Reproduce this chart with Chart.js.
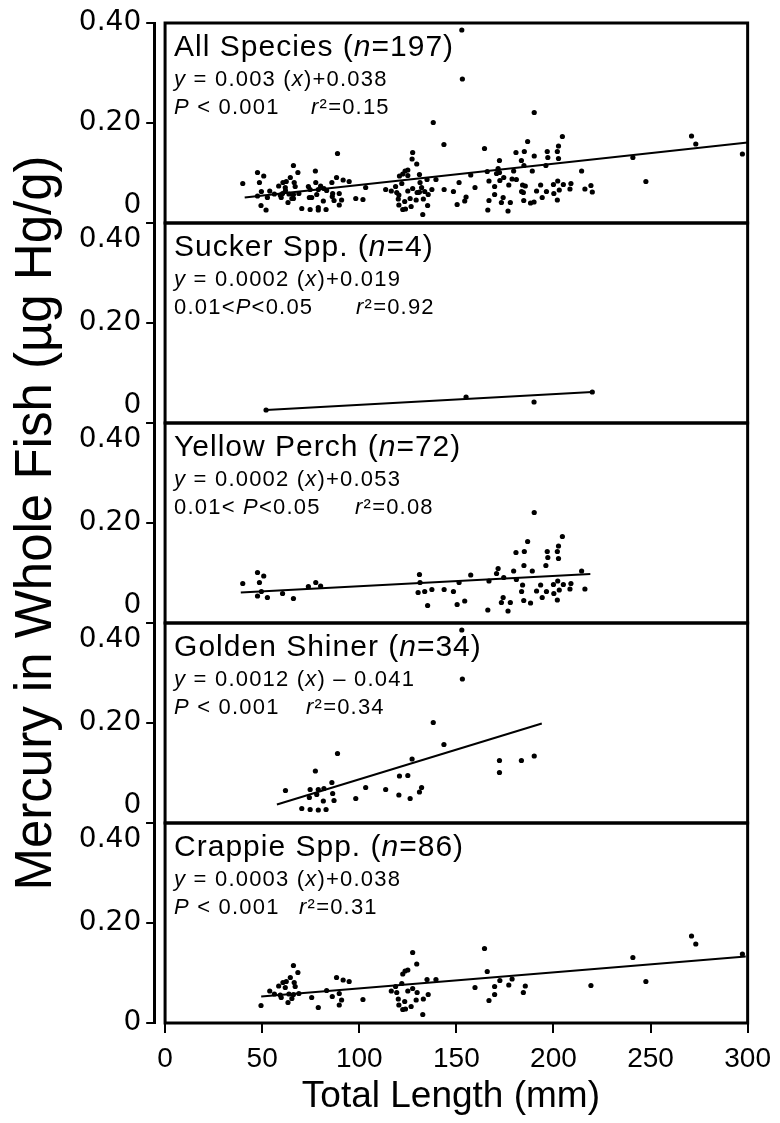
<!DOCTYPE html>
<html>
<head>
<meta charset="utf-8">
<script src="https://cdn.jsdelivr.net/npm/chart.js@4.4.1/dist/chart.umd.min.js"></script>
<style>
  html, body { margin: 0; padding: 0; background: #fff; }
  #wrap { position: relative; width: 780px; height: 1123px; }
</style>
</head>
<body>
<div id="wrap"><canvas id="chart" width="780" height="1123"></canvas></div>
<script>
// axis ticks
const xTicks = [0, 50, 100, 150, 200, 250, 300];
const yTicks = [0, 0.2, 0.4];
const yTickLabels = ["0", "0.20", "0.40"];

// [total length mm, mercury ug/g]
const sucker = [[52, 0.026], [155, 0.052], [190, 0.042], [220, 0.062]];

const perch = [
  [40, 0.079], [47.6, 0.101], [50.8, 0.094], [48.6, 0.081], [47.6, 0.054], [52.7, 0.051],
  [49.6, 0.063], [60.5, 0.059], [66.1, 0.049], [73.8, 0.073], [77.6, 0.081], [80.1, 0.074],
  [131, 0.097], [131.3, 0.081], [130.3, 0.061], [133.7, 0.063], [137.4, 0.067], [143.7, 0.067],
  [148.5, 0.063], [135.2, 0.035], [150.4, 0.037], [154.3, 0.044], [151.4, 0.081],
  [157.4, 0.096], [166.2, 0.026], [166.8, 0.084], [170.7, 0.099], [171.5, 0.109], [174.4, 0.091],
  [174.1, 0.051], [173.2, 0.041], [177.8, 0.041], [176.6, 0.024], [179.5, 0.104], [180.7, 0.141],
  [180.9, 0.087], [184.1, 0.076], [183.6, 0.063], [184.7, 0.045], [188.2, 0.040], [185, 0.143],
  [186.7, 0.163], [184.8, 0.115], [190.1, 0.221], [189.1, 0.104], [191.3, 0.064], [194.2, 0.051],
  [193.4, 0.076], [196.4, 0.063], [196.1, 0.115], [196.8, 0.143], [197.1, 0.131], [200, 0.077],
  [200.2, 0.059], [202, 0.046], [202.2, 0.084], [202.6, 0.154], [202, 0.143], [202.6, 0.129],
  [204.6, 0.173], [205.1, 0.077], [208.5, 0.068], [209, 0.079], [214.5, 0.104], [216.2, 0.068],
  [203, 0.066]
];

const shiner = [
  [152.8, 0.386], [153.1, 0.288], [138.1, 0.201], [143.6, 0.157], [88.8, 0.139], [77.4, 0.104],
  [62, 0.065], [74.7, 0.067], [78.1, 0.057], [74.3, 0.051], [78.9, 0.067], [81.8, 0.069],
  [85.9, 0.081], [86.3, 0.059], [81.5, 0.044], [87, 0.045], [70.4, 0.029], [74.7, 0.027],
  [78.9, 0.026], [82.9, 0.027], [98.2, 0.049], [103.3, 0.071], [113.6, 0.067], [120.4, 0.056],
  [126.2, 0.049], [132.1, 0.071], [120.7, 0.094], [125, 0.095], [127.2, 0.128], [172.2, 0.125],
  [172.2, 0.101], [183.5, 0.125], [190.1, 0.134], [131, 0.062]
];

const crappie = [
  [49.4, 0.035], [53.9, 0.064], [56.3, 0.058], [58.5, 0.074], [59.3, 0.056], [60.7, 0.081],
  [61.9, 0.071], [62.4, 0.083], [59.8, 0.051], [63.3, 0.041], [64.5, 0.091], [66.1, 0.115],
  [68.4, 0.101], [66.5, 0.081], [67, 0.073], [66.1, 0.057], [68.9, 0.059], [65.3, 0.049],
  [63.8, 0.058], [75.5, 0.051], [78.9, 0.031], [83.2, 0.065], [88.3, 0.091], [91.7, 0.086],
  [94.8, 0.083], [86.1, 0.053], [89.7, 0.059], [90.9, 0.046], [89.7, 0.036], [101.9, 0.047],
  [116.5, 0.064], [118.7, 0.073], [119.3, 0.061], [121.9, 0.079], [120.1, 0.048], [120.4, 0.036],
  [123.4, 0.043], [122.4, 0.027], [123.8, 0.028], [126.7, 0.033], [122.4, 0.098], [123.6, 0.104],
  [125, 0.106], [127.5, 0.141], [129.6, 0.118], [125, 0.064], [127.5, 0.069], [129.8, 0.061],
  [129.3, 0.046], [133, 0.048], [135.5, 0.057], [132.7, 0.017], [134.9, 0.087], [139.5, 0.087],
  [159.6, 0.071], [164.5, 0.149], [165.9, 0.103], [166.8, 0.045], [169.7, 0.057], [169.7, 0.073],
  [172.4, 0.085], [177, 0.076], [178.7, 0.088], [184.5, 0.061], [185.5, 0.074], [219.3, 0.075],
  [240.9, 0.131], [247.6, 0.083], [271.1, 0.174], [273.3, 0.158], [297.3, 0.138]
];

const allSpecies = [].concat(sucker, perch, shiner, crappie);

// fitted regression lines, end points as drawn
const fitAll = [[41, 0.051], [300, 0.161]];
const fitSucker = [[52, 0.026], [220, 0.062]];
const fitPerch = [[39, 0.061], [219, 0.098]];
const fitShiner = [[57.6, 0.037], [194, 0.199]];
const fitCrappie = [[49.5, 0.053], [299, 0.133]];

const panelIds = ["y1", "y2", "y3", "y4", "y5"];
const panelPoints = [allSpecies, sucker, perch, shiner, crappie];
const panelFits = [fitAll, fitSucker, fitPerch, fitShiner, fitCrappie];

// text segments: [text, italic]
const panelTitles = [
  [["All Species (", 0], ["n", 1], ["=197)", 0]],
  [["Sucker Spp. (", 0], ["n", 1], ["=4)", 0]],
  [["Yellow Perch (", 0], ["n", 1], ["=72)", 0]],
  [["Golden Shiner (", 0], ["n", 1], ["=34)", 0]],
  [["Crappie Spp. (", 0], ["n", 1], ["=86)", 0]],
];
const panelEquations = [
  [["y", 1], [" = 0.003 (", 0], ["x", 1], [")+0.038", 0]],
  [["y", 1], [" = 0.0002 (", 0], ["x", 1], [")+0.019", 0]],
  [["y", 1], [" = 0.0002 (", 0], ["x", 1], [")+0.053", 0]],
  [["y", 1], [" = 0.0012 (", 0], ["x", 1], [") \u2013 0.041", 0]],
  [["y", 1], [" = 0.0003 (", 0], ["x", 1], [")+0.038", 0]],
];
const panelP = [
  [["P", 1], [" < 0.001", 0]],
  [["0.01<", 0], ["P", 1], ["<0.05", 0]],
  [["0.01< ", 0], ["P", 1], ["<0.05", 0]],
  [["P", 1], [" < 0.001", 0]],
  [["P", 1], [" < 0.001", 0]],
];
const panelR2 = [
  [["r", 1], ["\u00b2=0.15", 0]],
  [["r", 1], ["\u00b2=0.92", 0]],
  [["r", 1], ["\u00b2=0.08", 0]],
  [["r", 1], ["\u00b2=0.34", 0]],
  [["r", 1], ["\u00b2=0.31", 0]],
];
const r2Offsets = [137, 182, 181, 132, 125];

const FONT = "Liberation Sans";

function toXY(rows) {
  return rows.map(([x, y]) => ({ x, y }));
}

function drawSegments(ctx, segs, x, y, size, spacing) {
  ctx.letterSpacing = spacing + "px";
  segs.forEach(([text, italic]) => {
    ctx.font = (italic ? "italic " : "") + size + "px \"" + FONT + "\"";
    ctx.fillText(text, x, y);
    x += ctx.measureText(text).width;
  });
}

const panelsPlugin = {
  id: "panels",
  afterDatasetsDraw(chart) {
    const { ctx, scales } = chart;
    const x0 = scales.x.getPixelForValue(0);
    const x1 = scales.x.getPixelForValue(300);
    ctx.save();
    ctx.strokeStyle = "#000";
    ctx.lineWidth = 3;
    ctx.fillStyle = "#000";
    ctx.textBaseline = "alphabetic";
    ctx.textAlign = "left";
    panelIds.forEach((id, i) => {
      const s = scales[id];
      ctx.strokeRect(x0, s.top, x1 - x0, s.bottom - s.top);
      const tx = x0 + 9;
      drawSegments(ctx, panelTitles[i], tx, s.top + 33, 30, 1);
      drawSegments(ctx, panelEquations[i], tx, s.top + 63, 22, 1.2);
      drawSegments(ctx, panelP[i], tx, s.top + 91, 22, 1.2);
      drawSegments(ctx, panelR2[i], tx + r2Offsets[i], s.top + 91, 22, 1.2);
    });
    ctx.restore();
  },
};

const datasets = [];
panelIds.forEach((id, i) => {
  datasets.push({
    data: toXY(panelPoints[i]),
    yAxisID: id,
    pointRadius: 2.6,
    pointHoverRadius: 2.6,
    backgroundColor: "#000",
    borderWidth: 0,
  });
  datasets.push({
    data: toXY(panelFits[i]),
    yAxisID: id,
    showLine: true,
    pointRadius: 0,
    borderColor: "#000",
    borderWidth: 2,
    tension: 0,
  });
});

function yLabel(panel, index) {
  const last = panelIds.length - 1;
  if (index === 0 && panel < last) return [yTickLabels[0], ""];
  if (index === 2 && panel > 0) return ["", yTickLabels[2]];
  return yTickLabels[index];
}

const scales = {
  x: {
    type: "linear",
    min: -5.6,
    max: 300,
    afterBuildTicks: (scale) => { scale.ticks = xTicks.map((v) => ({ value: v })); },
    afterFit: (scale) => { scale.height = 100; },
    grid: { drawOnChartArea: false, tickLength: 10, color: "#000", lineWidth: 2 },
    border: { display: false },
    ticks: { color: "#000", font: { family: FONT, size: 28 }, padding: 9, maxRotation: 0, autoSkip: false },
    title: { display: true, text: "Total Length (mm)", color: "#000", font: { family: FONT, size: 37 }, padding: { top: 0 } },
  },
};
// stacked axes are laid out bottom-up, so add the lowest panel first
panelIds.slice().reverse().forEach((id) => {
  const i = panelIds.indexOf(id);
  scales[id] = {
    type: "linear",
    position: "left",
    stack: "panels",
    stackWeight: 1,
    min: 0,
    max: 0.4,
    afterBuildTicks: (scale) => { scale.ticks = yTicks.map((v) => ({ value: v })); },
    afterFit: (scale) => {
      scale.width = 87;
      scale.paddingTop = 0;
      scale.paddingBottom = 0;
    },
    ticks: {
      color: "#000",
      font: { family: "DejaVu Sans", size: 28 },
      padding: 5,
      autoSkip: false,
      callback: (value, index) => yLabel(i, index),
    },
    grid: { drawOnChartArea: false, tickLength: 8, color: "#000", lineWidth: 2 },
    border: { display: true, color: "#000", width: 3 },
  };
});

new Chart(document.getElementById("chart"), {
  type: "scatter",
  data: { datasets },
  options: {
    responsive: false,
    animation: false,
    devicePixelRatio: 1,
    layout: { padding: { left: 6, top: 23, right: 29, bottom: 0 } },
    scales,
    plugins: {
      legend: { display: false },
      tooltip: { enabled: false },
      title: {
        display: true,
        position: "left",
        fullSize: false,
        text: "Mercury in Whole Fish (\u00b5g Hg/g)",
        color: "#000",
        font: { family: FONT, size: 51, weight: "normal" },
        padding: 0,
      },
    },
  },
  plugins: [panelsPlugin],
});
</script>
</body>
</html>
